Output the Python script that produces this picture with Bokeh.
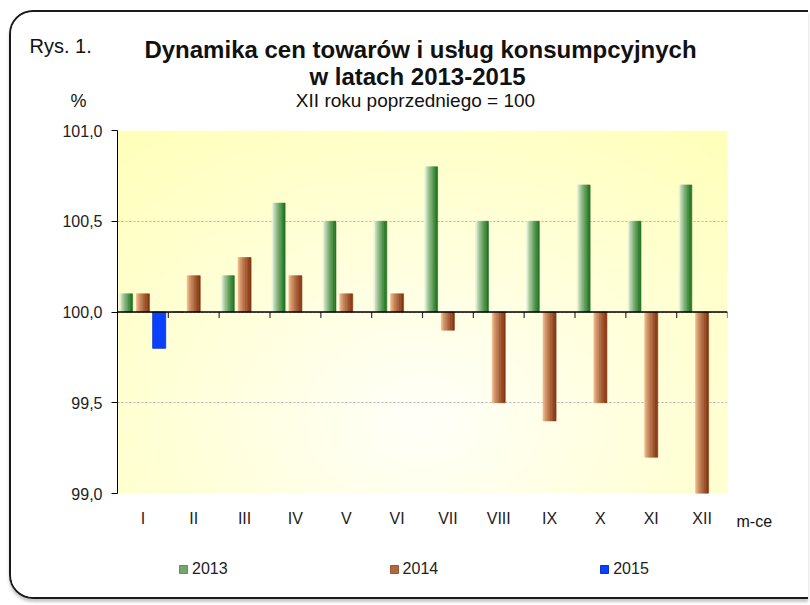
import numpy as np
from bokeh.plotting import figure
from bokeh.models import FixedTicker, Label, Legend, LegendItem, Span, Range1d
from bokeh.embed import file_html
from bokeh.resources import INLINE

# ---------------- data ----------------
months = ["I", "II", "III", "IV", "V", "VI", "VII", "VIII", "IX", "X", "XI", "XII"]
years = ["2013", "2014", "2015"]
v2013 = [100.1, 100.0, 100.2, 100.6, 100.5, 100.5, 100.8, 100.5, 100.5, 100.7, 100.5, 100.7]
v2014 = [100.1, 100.2, 100.3, 100.2, 100.1, 100.1, 99.9, 99.5, 99.4, 99.5, 99.2, 99.0]
v2015 = [99.8]
base_value = 100.0
y_ticks = [99.0, 99.5, 100.0, 100.5, 101.0]
y_tick_labels = ["99,0", "99,5", "100,0", "100,5", "101,0"]

title1 = "Dynamika cen towarów i usług konsumpcyjnych"
title2 = "w latach 2013-2015"
subtitle = "XII roku poprzedniego = 100"
fig_label = "Rys. 1."
y_unit = "%"
x_unit = "m-ce"

# ---------------- layout ----------------
OX, OY = 11, 12            # page position of both canvases
W, H = 799, 589
BL, BR, BT, BB = 106, 83, 118, 108
FONT = "Liberation Sans"
x0, x1 = 0, len(months)
y0, y1 = y_ticks[0], y_ticks[-1]

green = [(232, 242, 218), (35, 118, 35)]
brown = [(236, 180, 135), (135, 55, 18)]
blue_fill, blue_line = "#0a40ff", "#0832c8"

# ---- background canvas: rounded frame, titles, legend ----
bgp = figure(width=W, height=H, x_range=Range1d(0, W), y_range=Range1d(H, 0),
             x_axis_type=None, y_axis_type=None,
             output_backend="svg", toolbar_location=None, min_border=0)
bgp.styles = {"margin-left": "9px", "margin-top": "10px",
              "border-left": "2px solid #1a1a1a", "border-top": "2px solid #1a1a1a",
              "border-bottom": "2px solid #1a1a1a",
              "border-top-left-radius": "24px", "border-bottom-left-radius": "24px",
              "overflow": "hidden", "box-shadow": "0px 3px 3px #c8c8c8"}
bgp.grid.visible = False
bgp.outline_line_color = None
bgp.background_fill_color = "white"
bgp.border_fill_color = "white"


def add_label(px, py, text, size, bold=False, align="center"):
    bgp.add_layout(Label(x=px - OX, y=py - OY, text=text, text_align=align,
                         text_baseline="middle", text_font=FONT,
                         text_font_size=size,
                         text_font_style="bold" if bold else "normal",
                         text_color="#111111"))


add_label(29, 45, fig_label, "20px", align="left")
add_label(420, 49, title1, "24px", bold=True)
add_label(417, 76, title2, "24px", bold=True)
add_label(415, 100, subtitle, "19px")
add_label(78, 100, y_unit, "18px")
add_label(736, 521, x_unit, "16px", align="left")


def lerp(c0, c1, t):
    return "#%02x%02x%02x" % tuple(int(round(a + (b - a) * t)) for a, b in zip(c0, c1))


# legend proxies (one NaN row each: nothing is drawn in the plot, only in the legend)
leg_cols = [(lerp(*green, 0.6), lerp(*green, 0.75)), (lerp(*brown, 0.6), lerp(*brown, 0.75)),
            (blue_fill, blue_line)]
leg_r = [bgp.vbar(x=[np.nan], width=1, top=[np.nan], bottom=[np.nan],
                  fill_color=f, line_color=l)
         for f, l in leg_cols]
legend = Legend(items=[LegendItem(label=yr, renderers=[r]) for yr, r in zip(years, leg_r)],
                orientation="horizontal", location=(178 - OX, 23), spacing=161,
                glyph_width=10, glyph_height=10, label_standoff=4,
                label_text_font=FONT, label_text_font_size="16px",
                label_text_color="#222222",
                border_line_color=None, background_fill_alpha=0,
                padding=0, margin=0)
bgp.add_layout(legend)

# ---- chart canvas (transparent, laid over the background canvas) ----
p = figure(width=W, height=H, x_range=(x0, x1), y_range=(y0, y1),
           output_backend="svg", toolbar_location=None,
           min_border_left=BL, min_border_right=BR,
           min_border_top=BT, min_border_bottom=BB)
p.styles = {"position": "absolute", "left": "%dpx" % OX, "top": "%dpx" % OY}
p.outline_line_color = None
p.background_fill_alpha = 0
p.border_fill_alpha = 0

# plot-area radial gradient (pale yellow)
ny, nx = 120, 200
yy, xx = np.mgrid[0:ny, 0:nx]
u = xx / (nx - 1)
v = yy / (ny - 1)
r = np.sqrt(((u - 0.5) / 0.75) ** 2 + ((v - 0.2) / 1.0) ** 2)
t = np.clip(r, 0, 1)
bval = (250 - (250 - 188) * t).astype(np.uint32)
img = np.empty((ny, nx), dtype=np.uint32)
view = img.view(dtype=np.uint8).reshape((ny, nx, 4))
view[:, :, 0] = 255
view[:, :, 1] = 255
view[:, :, 2] = bval
view[:, :, 3] = 255
bg = p.image_rgba(image=[img], x=x0, y=y0, dw=x1 - x0, dh=y1 - y0)
bg.level = "image"

# bars with horizontal gradient strips
N = 8
bar_w = 0.256
offsets = [-0.33, 0.0, 0.32]


def gradient_bars(vals, off, cols):
    idx = np.arange(len(vals)) + 0.5 + off
    vals = np.array(vals, dtype=float)
    for k in range(N):
        tt = (k / (N - 1)) ** 0.8
        c = lerp(cols[0], cols[1], tt)
        xs = idx - bar_w / 2 + (k + 0.5) * bar_w / N
        p.vbar(x=xs, width=bar_w / N, bottom=base_value, top=vals,
               fill_color=c, line_color=c, line_width=0.6)


gradient_bars(v2013, offsets[0], green)
gradient_bars(v2014, offsets[1], brown)
p.vbar(x=np.arange(len(v2015)) + 0.5 + offsets[2], width=bar_w,
       bottom=base_value, top=v2015, fill_color=blue_fill, line_color=blue_line,
       line_width=0.8)

# baseline at 100 and category boundary ticks
FH = H - BT - BB
p.add_layout(Span(location=base_value, dimension="width", line_color="black", line_width=1.5))
bnds = np.arange(1, len(months) + 1)
p.segment(x0=bnds, y0=base_value, x1=bnds, y1=base_value - 6 / FH * (y1 - y0),
          line_color="#333333", line_width=1.2)

# axes
p.xgrid.visible = False
p.ygrid.ticker = FixedTicker(ticks=y_ticks)
p.ygrid.grid_line_color = "#b4b4b4"
p.ygrid.grid_line_dash = "2 2"
p.ygrid.grid_line_width = 1

ya = p.yaxis[0]
ya.ticker = FixedTicker(ticks=y_ticks)
ya.major_label_overrides = dict(zip(y_ticks, y_tick_labels))
ya.axis_line_color = "black"
ya.major_tick_line_color = "black"
ya.major_tick_out = 6
ya.major_tick_in = 0
ya.minor_tick_line_color = None
ya.major_label_standoff = 9
ya.major_label_text_font = FONT
ya.major_label_text_font_size = "16px"
ya.major_label_text_color = "#222222"

xa = p.xaxis[0]
xa.ticker = FixedTicker(ticks=list(np.arange(len(months)) + 0.5))
xa.major_label_overrides = {float(i + 0.5): m for i, m in enumerate(months)}
xa.axis_line_color = None
xa.major_tick_line_color = None
xa.minor_tick_line_color = None
xa.major_tick_out = 0
xa.major_label_standoff = 16
xa.major_label_text_font = FONT
xa.major_label_text_font_size = "16px"
xa.major_label_text_color = "#222222"

open("out.html", "w").write(file_html([bgp, p], INLINE))
